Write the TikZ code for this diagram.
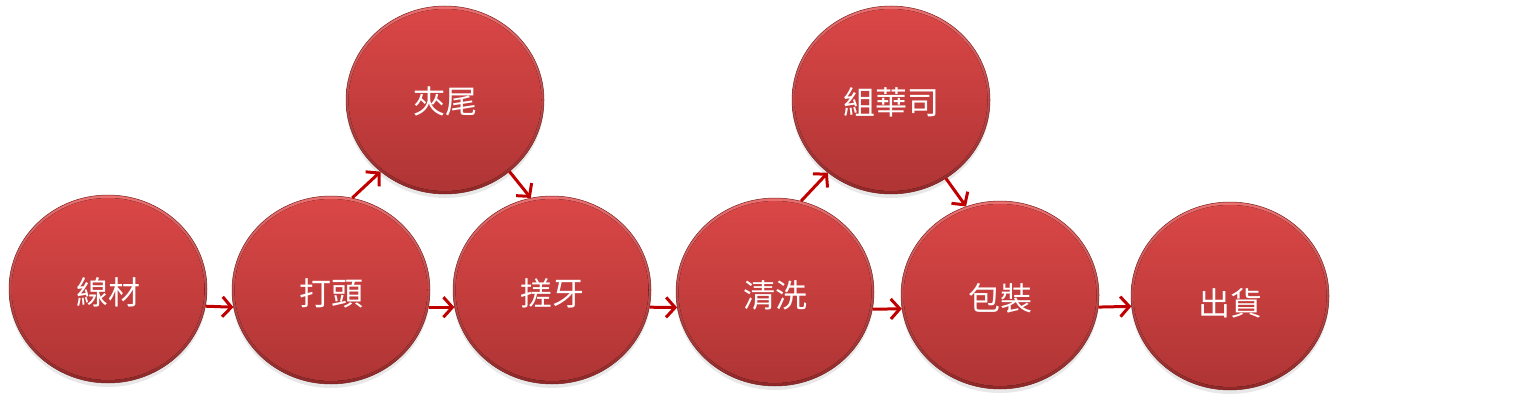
\documentclass[tikz,border=0pt]{standalone}
\usepackage{fontspec}
\newfontfamily\cjk{Noto Sans CJK TC}
\usetikzlibrary{shapes.geometric,arrows.meta,shadows}
\definecolor{rimtop}{HTML}{EA7070}
\definecolor{rimbot}{HTML}{8E2828}
\definecolor{facetop}{HTML}{DB4747}
\definecolor{facebot}{HTML}{AF3434}
\definecolor{arrowred}{HTML}{C00000}
\newcommand{\lowtxt}[2][3pt]{\raisebox{-#1}[\height][\depth]{#2}}
\tikzset{
  ball/.style={ellipse, minimum width=198pt, minimum height=188pt, inner sep=0pt,
    top color=rimtop, bottom color=rimbot, draw=rimbot!85!black, line width=0.5pt,
    drop shadow={opacity=0.18, shadow xshift=0pt, shadow yshift=-4pt},
    path picture={\fill[top color=facetop, bottom color=facebot]
      (path picture bounding box.center) ellipse (96.5pt and 91pt);},
    text=white, font=\cjk\fontsize{32}{38}\selectfont},
  arr/.style={draw=arrowred, line width=3pt, -{Straight Barb[length=9pt,width=20pt]}}
}
\begin{document}
\begin{tikzpicture}[x=1pt,y=-1pt]
\useasboundingbox (0,0) rectangle (1525,404);
\node[ball] (xc) at (108,289) {\lowtxt{線材}};
\node[ball] (dt) at (331,290) {\lowtxt{打頭}};
\node[ball] (jw) at (445,100) {\lowtxt[1pt]{夾尾}};
\node[ball] (cy) at (552,290) {\lowtxt{搓牙}};
\node[ball] (qx) at (775,292) {\lowtxt{清洗}};
\node[ball] (zh) at (891,100) {\lowtxt[2pt]{組華司}};
\node[ball] (bz) at (1000,295) {\lowtxt{包裝}};
\node[ball] (ch) at (1230,296) {\lowtxt[7pt]{出貨}};
\draw[arr] (xc.-10.5) -- (dt.190.5);
\draw[arr] (dt.-10.5) -- (cy.190.5);
\draw[arr] (cy.-10.5) -- (qx.189.3);
\draw[arr] (qx.-10.5) -- (bz.188.8);
\draw[arr] (bz.-7.6) -- (ch.186.7);
\draw[arr] (dt.77) -- (jw.228);
\draw[arr] (jw.-48.7) -- (cy.103.4);
\draw[arr] (qx.74.8) -- (zh.229.5);
\draw[arr] (zh.-55.7) -- (bz.111.7);
\end{tikzpicture}
\end{document}
